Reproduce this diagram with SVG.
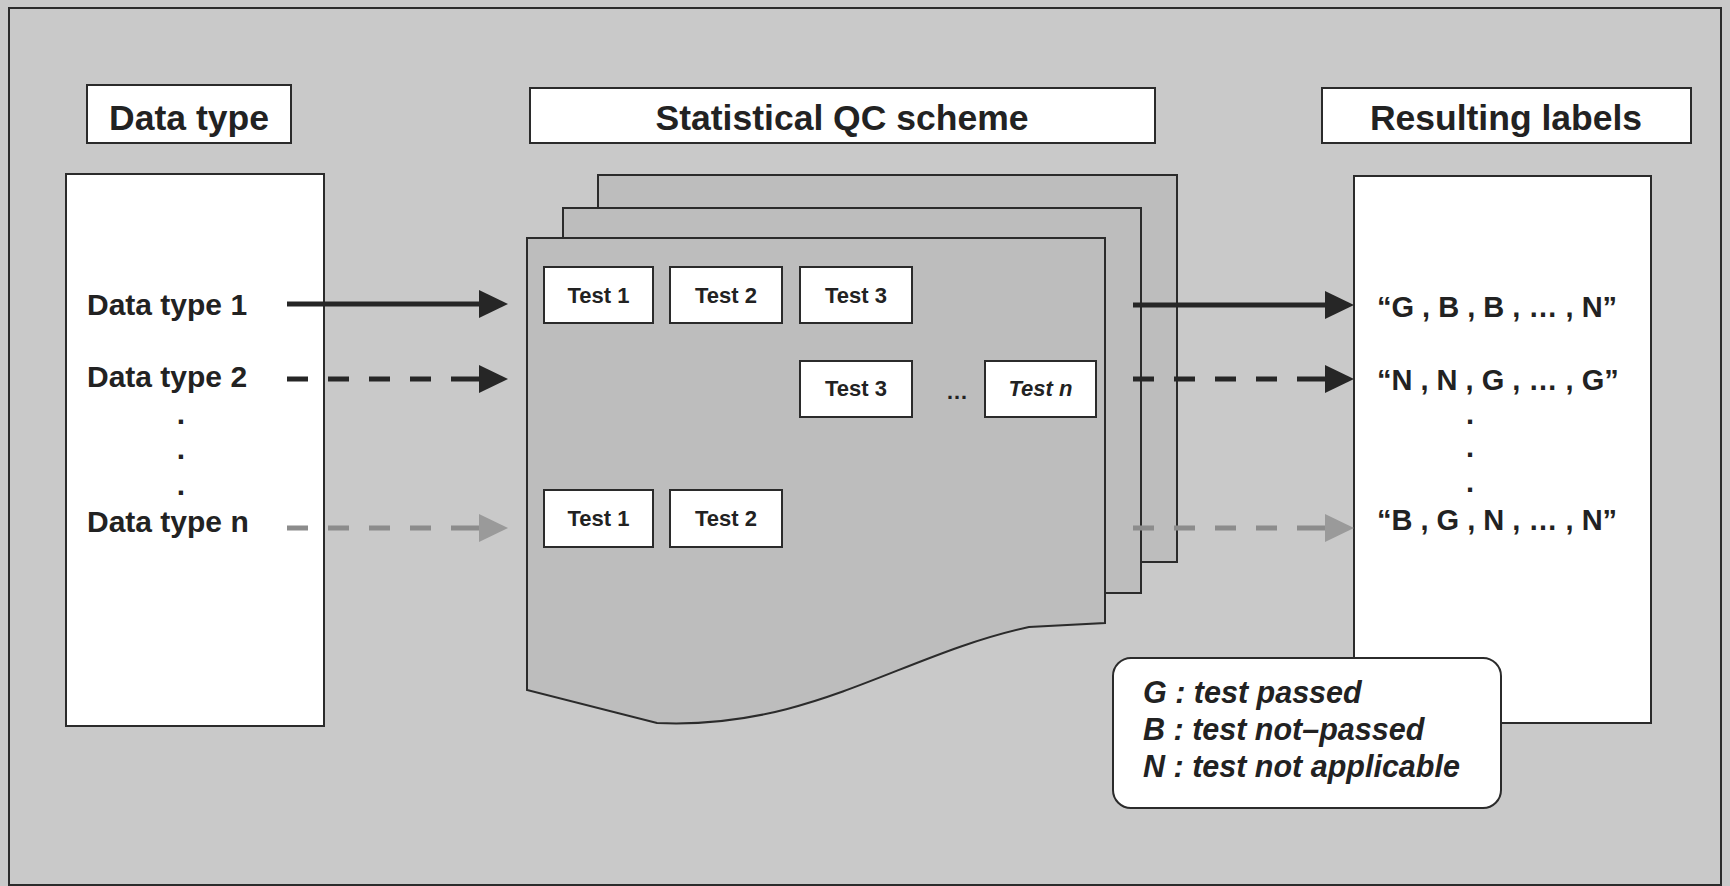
<svg xmlns="http://www.w3.org/2000/svg" width="1730" height="886" viewBox="0 0 1730 886">
<defs>
<style>
.t{font-family:"Liberation Sans",Arial,sans-serif;font-weight:bold;fill:#222}
.box{fill:#fff;stroke:#2b2b2b;stroke-width:2}
.sheet{fill:#bdbdbd;stroke:#2b2b2b;stroke-width:2}
.hd{font-size:35.5px;text-anchor:middle}
.dt{font-size:30px}
.ts{font-size:22px;text-anchor:middle}
.lb{font-size:29px}
.lg{font-size:30.5px;font-style:italic}
.dk{stroke:#262626;stroke-width:5;fill:none}
.gr{stroke:#8c8c8c;stroke-width:5;fill:none}
.dash{stroke-dasharray:21 20 21 20 21 20 21 20 28}
</style>
<marker id="ahd" markerUnits="userSpaceOnUse" markerWidth="30" markerHeight="28" refX="0" refY="14" orient="auto"><path d="M0,0 L29,14 L0,28 Z" fill="#262626"/></marker>
<marker id="ahg" markerUnits="userSpaceOnUse" markerWidth="30" markerHeight="28" refX="0" refY="14" orient="auto"><path d="M0,0 L29,14 L0,28 Z" fill="#9a9a9a"/></marker>
</defs>
<rect x="0" y="0" width="1730" height="886" fill="#c9c9c9"/>
<rect x="9" y="8" width="1712" height="877" fill="#c9c9c9" stroke="#2b2b2b" stroke-width="2"/>

<g id="hdr-datatype"><rect class="box" x="87" y="85" width="204" height="58"/><text class="t hd" x="189" y="130">Data type</text></g>
<g id="hdr-qc"><rect class="box" x="530" y="88" width="625" height="55"/><text class="t hd" x="842" y="130">Statistical QC scheme</text></g>
<g id="hdr-labels"><rect class="box" x="1322" y="88" width="369" height="55"/><text class="t hd" x="1506" y="130">Resulting labels</text></g>

<g id="datatypes">
<rect class="box" x="66" y="174" width="258" height="552"/>
<text class="t dt" x="87" y="315">Data type 1</text>
<text class="t dt" x="87" y="387">Data type 2</text>
<text class="t dt" x="181" y="424" text-anchor="middle">.</text>
<text class="t dt" x="181" y="459" text-anchor="middle">.</text>
<text class="t dt" x="181" y="495" text-anchor="middle">.</text>
<text class="t dt" x="87" y="532">Data type n</text>
</g>

<g id="qc-scheme">
<rect class="sheet" x="598" y="175" width="579" height="387"/>
<rect class="sheet" x="563" y="208" width="578" height="385"/>
<path class="sheet" d="M527,238 L1105,238 L1105,623 L1029,627 C900,655 810,730 657,723 L527,690 Z"/>
<g id="r1t1"><rect class="box" x="544" y="267" width="109" height="56"/><text class="t ts" x="598.5" y="303">Test 1</text></g>
<g id="r1t2"><rect class="box" x="670" y="267" width="112" height="56"/><text class="t ts" x="726" y="303">Test 2</text></g>
<g id="r1t3"><rect class="box" x="800" y="267" width="112" height="56"/><text class="t ts" x="856" y="303">Test 3</text></g>
<g id="r2t3"><rect class="box" x="800" y="361" width="112" height="56"/><text class="t ts" x="856" y="396">Test 3</text></g>
<text class="t ts" x="957" y="399">…</text>
<g id="r2tn"><rect class="box" x="985" y="361" width="111" height="56"/><text class="t ts" x="1040.5" y="396" font-style="italic">Test n</text></g>
<g id="r3t1"><rect class="box" x="544" y="490" width="109" height="57"/><text class="t ts" x="598.5" y="526">Test 1</text></g>
<g id="r3t2"><rect class="box" x="670" y="490" width="112" height="57"/><text class="t ts" x="726" y="526">Test 2</text></g>
</g>

<g id="results">
<rect class="box" x="1354" y="176" width="297" height="547"/>
<text class="t lb" x="1377" y="317">“G , B , B , … , N”</text>
<text class="t lb" x="1377" y="390">“N , N , G , … , G”</text>
<text class="t lb" x="1470" y="424" text-anchor="middle">.</text>
<text class="t lb" x="1470" y="457" text-anchor="middle">.</text>
<text class="t lb" x="1470" y="492" text-anchor="middle">.</text>
<text class="t lb" x="1377" y="530">“B , G , N , … , N”</text>
</g>

<g id="connectors">
<line class="dk" x1="287" y1="304" x2="479" y2="304" marker-end="url(#ahd)"/>
<line class="dk dash" x1="287" y1="379" x2="479" y2="379" marker-end="url(#ahd)"/>
<line class="gr dash" x1="287" y1="528" x2="479" y2="528" marker-end="url(#ahg)"/>
<line class="dk" x1="1133" y1="305" x2="1325" y2="305" marker-end="url(#ahd)"/>
<line class="dk dash" x1="1133" y1="379" x2="1325" y2="379" marker-end="url(#ahd)"/>
<line class="gr dash" x1="1133" y1="528" x2="1325" y2="528" marker-end="url(#ahg)"/>
</g>

<g id="legend">
<rect class="box" x="1113" y="658" width="388" height="150" rx="18"/>
<text class="t lg" x="1143" y="703">G : test passed</text>
<text class="t lg" x="1143" y="740">B : test not–passed</text>
<text class="t lg" x="1143" y="777">N : test not applicable</text>
</g>
</svg>
